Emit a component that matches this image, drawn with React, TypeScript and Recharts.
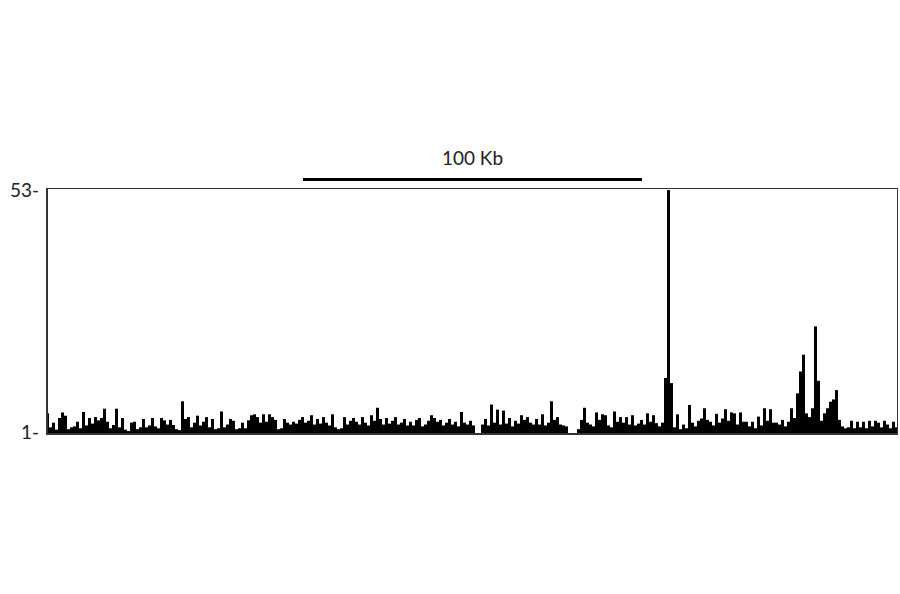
import { BarChart, Bar, XAxis, YAxis } from 'recharts';

// coverage read off the track, 3px bins left to right (0.35 = no signal)
const seg1 = [5.0, 2.0, 3.0, 1.5, 4.0, 5.2, 4.5, 1.6, 2.0, 2.2, 3.2, 1.8, 5.3, 2.4, 4.0, 2.8, 4.2, 3.5, 4.0, 6.0,
  3.2, 1.8, 2.5, 6.0, 2.0, 4.0, 1.5, 1.2, 3.0, 3.2, 1.6, 2.0, 3.8, 2.0, 2.4, 4.0, 2.2, 1.8, 4.0, 3.5, 2.6];
const seg2 = [3.6, 2.5, 1.6, 1.4, 7.6, 3.8, 4.2, 2.0, 3.0, 4.5, 2.4, 3.2, 4.2, 2.0, 3.8, 1.6, 1.8, 5.4, 2.0, 2.6,
  3.8, 3.4, 1.6, 1.8, 3.0, 1.8, 3.5, 4.6, 4.8, 4.2, 3.0, 4.8, 3.2, 4.8, 4.2, 3.6, 1.6, 1.8, 3.8, 3.0];
const seg3 = [2.6, 3.2, 2.8, 3.6, 4.2, 3.0, 3.4, 4.6, 2.6, 3.8, 2.8, 4.2, 3.0, 2.4, 4.8, 2.0, 1.6, 1.8, 4.2, 2.6,
  3.4, 4.0, 3.2, 2.6, 4.2, 3.0, 2.4, 4.6, 3.4, 6.2, 3.8, 2.6, 4.0, 2.8, 3.4, 4.2, 2.6, 3.0, 3.8, 2.4, 3.2];
const seg4 = [2.4, 3.6, 4.0, 2.2, 2.6, 3.4, 4.6, 4.0, 3.2, 3.6, 2.4, 3.0, 3.8, 2.6, 3.2, 2.2, 5.3, 3.0, 2.6, 3.4,
  2.4, 0.35, 0.35, 2.6, 3.8, 2.4, 6.9, 3.0, 5.8, 2.6, 5.6, 2.8, 4.0, 2.2, 3.4, 2.8, 4.6, 3.6, 4.2, 3.0, 2.6];
const seg5 = [3.8, 2.6, 4.8, 2.4, 3.0, 7.6, 3.6, 4.2, 2.6, 2.4, 2.2, 0.35, 0.35, 0.35, 1.6, 3.6, 6.2, 3.0, 2.6, 2.2,
  5.2, 3.6, 4.8, 4.6, 2.4, 2.0, 5.4, 3.2, 4.2, 3.0, 4.2, 2.6, 4.6, 2.4, 2.8, 3.6, 2.6, 5.0, 3.2, 4.6];
const seg6 = [2.9, 2.2, 3.0, 12.6, 53, 11.5, 2.0, 4.8, 1.6, 2.6, 1.8, 6.8, 3.0, 2.2, 3.4, 3.9, 6.1, 3.6, 3.2, 2.4,
  4.9, 3.0, 3.9, 5.9, 3.4, 5.2, 5.0, 2.6, 5.2, 3.2, 3.2, 2.2, 3.2, 1.8, 4.3, 2.4, 6.1, 3.4, 5.9, 3.0];
const seg7 = [3.0, 2.6, 3.6, 2.2, 3.2, 6.1, 4.0, 9.3, 14.0, 17.6, 5.0, 4.2, 6.1, 23.7, 12.0, 3.4, 5.0, 6.1, 7.5, 8.0,
  10.0, 3.6, 2.2, 1.8, 2.0, 3.4, 1.8, 3.2, 2.0, 3.2, 1.8, 3.4, 2.2, 3.4, 3.0, 2.0, 3.4, 2.6, 1.8, 3.2, 2.0];

const yTicks = [1, 53];
const scaleLabel = '100 Kb';

const values = [...seg1, ...seg2, ...seg3, ...seg4, ...seg5, ...seg6, ...seg7];
const data = values.map((v, i) => ({ bin: i, v }));

const font = 'Lato, "Open Sans", sans-serif';

export default function App() {
  return (
    <div style={{ position: 'relative', width: 900, height: 594, background: '#fff' }}>
      <style>{'body{margin:0}'}</style>
      <BarChart
        width={900}
        height={594}
        data={data}
        margin={{ top: 188, right: 2, bottom: 159, left: 0 }}
        barCategoryGap={0}
        barGap={0}
      >
        <XAxis dataKey="bin" hide />
        <YAxis
          width={46}
          domain={[0.35, 53.43]}
          allowDataOverflow
          ticks={yTicks}
          axisLine={false}
          tickLine={false}
          tickMargin={1}
          tickFormatter={(v) => `${v}-`}
          tick={{ fontSize: 19, fill: '#222', fontFamily: font }}
        />
        <Bar dataKey="v" fill="#000" isAnimationActive={false} />
      </BarChart>
      {/* track frame */}
      <div style={{
        position: 'absolute', left: 46, top: 188, width: 852, height: 247,
        border: '1.5px solid #333', borderLeftWidth: 2, borderBottomWidth: 2,
        boxSizing: 'border-box', pointerEvents: 'none',
      }} />
      {/* scale bar */}
      <div style={{
        position: 'absolute', left: 303, top: 178, width: 339, height: 3, background: '#000',
      }} />
      <div style={{
        position: 'absolute', left: 303, width: 339, top: 146, textAlign: 'center',
        fontFamily: font, fontSize: 19, color: '#222', lineHeight: '24px',
      }}>
        {scaleLabel}
      </div>
    </div>
  );
}
